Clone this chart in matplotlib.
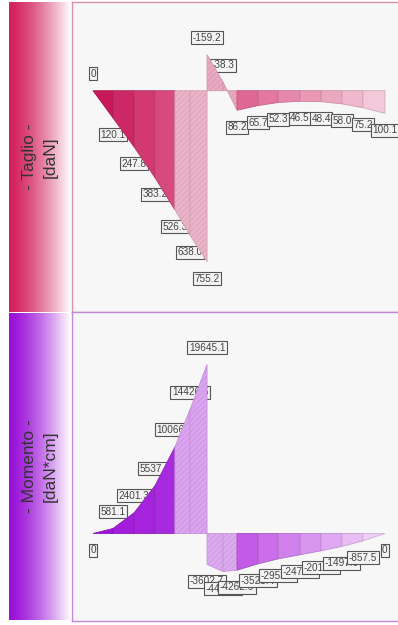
import numpy as np
import matplotlib
matplotlib.use("Agg")
import matplotlib.pyplot as plt
from matplotlib.colors import LinearSegmentedColormap, to_rgb

#----------------------------------------------------------------------------#
            # Data (stations along the beam [cm] and values) #
#----------------------------------------------------------------------------#

x_sx = [0, 9.4, 19.3, 29.1, 38.5, 45.6, 53.6]
x_dx = [53.6, 61.1, 67.7, 77.6, 87.0, 97.3, 107.2, 117.0, 126.9, 137.2]

taglio_sx = [0, 120.1, 247.8, 383.2, 526.3, 638.0, 755.2]
taglio_dx = [-159.2, -38.3, 86.2, 65.7, 52.3, 46.5, 48.4, 58.0, 75.2, 100.1]

momento_sx = [0, 581.1, 2401.3, 5537.4, 10066.2, 14426.5, 19645.1]
momento_dx = [-3602.7, -4426.5, -4262.6, -3525.4, -2953.1, -2474.0,
              -2013.2, -1497.6, -857.5, 0]

titoli = ["- Taglio -\n[daN]", "- Momento -\n[daN*cm]"]

#----------------------------------------------------------------------------#
            # Style #
#----------------------------------------------------------------------------#

plt.rcParams['font.family'] = ['Liberation Sans', 'DejaVu Sans']
plt.rcParams['hatch.linewidth'] = 0.5

W, H = 398, 625
fig = plt.figure(figsize=(W / 100, H / 100), dpi=100)


def px_axes(x0, y0, x1, y1):
    # axes from pixel box (top-left origin)
    return fig.add_axes([x0 / W, 1 - y1 / H, (x1 - x0) / W, (y1 - y0) / H])


def grad(n, dark, light):
    c0, c1 = np.array(to_rgb(dark)), np.array(to_rgb(light))
    return [tuple(c0 + (c1 - c0) * k / max(n - 1, 1)) for k in range(n)]


def darker(c, f=0.85):
    return tuple(np.array(to_rgb(c)) * f)


def label(ax, x, v, up):
    txt = "0" if v == 0 else "%.1f" % v
    ax.annotate(txt, xy=(x, v), xytext=(0, 12.2 if up else -12.2),
                textcoords='offset points', ha='center', va='center',
                fontsize=7.2, color='#444444', zorder=2,
                bbox=dict(boxstyle='square,pad=0.15', fc='#f3f3f3',
                          ec='#555555', lw=0.8))


def draw(ax, xs, vals, cols, hatched, up_rule):
    for i, (x, v) in enumerate(zip(xs, vals)):
        label(ax, x, v, up_rule(v))
    for i in range(len(xs) - 1):
        px = [xs[i], xs[i], xs[i + 1], xs[i + 1]]
        py = [0, vals[i], vals[i + 1], 0]
        c = cols[i]
        if hatched[i]:
            ax.fill(px, py, facecolor=c, edgecolor=darker(c, 0.9), lw=0.6,
                    hatch='//////', zorder=3)
        else:
            ax.fill(px, py, facecolor=c, edgecolor=darker(c), lw=0.6, zorder=3)


# left bands with gradient
bands = [(2, 312, '#d2215c'), (313, 620, '#9a10d8')]
for (y0, y1, col), titolo in zip(bands, titoli):
    axb = px_axes(9, y0, 71, y1)
    cmap = LinearSegmentedColormap.from_list('b', [col, '#ffffff'])
    axb.imshow((np.linspace(0, 1, 200) ** 1.4)[None, :], cmap=cmap,
               aspect='auto', extent=[0, 1, 0, 1])
    axb.set_xlim(0, 1)
    axb.set_ylim(0, 1)
    axb.axis('off')
    axb.text(0.5, 0.5, titolo, rotation=90, ha='center', va='center',
             fontsize=12.5, color='#333333', linespacing=1.5,
             transform=axb.transAxes)

# x scale: beam start at px 93, 0.47 cm per px
sx = 0.47
xlim = (-(93 - 72) * sx, (W - 93) * sx)

#----------------------------------------------------------------------------#
            # Taglio #
#----------------------------------------------------------------------------#

ax_t = px_axes(72, 2, W, 312)
ax_t.set_facecolor('#f7f7f7')
kt = 0.2265  # px per daN
ax_t.set_xlim(*xlim)
ax_t.set_ylim((312 - 90.7) / kt, -(90.7 - 2) / kt)

cols = grad(4, '#c8185a', '#d8497d') + ['#ecb3c8'] * 2
draw(ax_t, x_sx, taglio_sx, cols, [0, 0, 0, 0, 1, 1], lambda v: v <= 0)
cols = ['#eaa8c1'] * 2 + grad(7, '#e06894', '#f3c8d8')
draw(ax_t, x_dx, taglio_dx, cols, [1, 1] + [0] * 7, lambda v: v <= 0)

#----------------------------------------------------------------------------#
            # Momento #
#----------------------------------------------------------------------------#

ax_m = px_axes(72, 312, W, 621)
ax_m.set_facecolor('#f7f7f7')
km = 0.0086  # px per daN*cm
ax_m.set_xlim(*xlim)
ax_m.set_ylim(-(621 - 533.5) / km, (533.5 - 312) / km)

cols = grad(4, '#a016d9', '#a82ade') + ['#dca3f0'] * 2
draw(ax_m, x_sx, momento_sx, cols, [0, 0, 0, 0, 1, 1], lambda v: v > 0)
cols = ['#dda9f0'] * 2 + grad(7, '#c25ae6', '#efcff8')
draw(ax_m, x_dx, momento_dx, cols, [1, 1] + [0] * 7, lambda v: v > 0)

for ax, ec in [(ax_t, '#d890ae'), (ax_m, '#c18ad9')]:
    ax.set_xticks([])
    ax.set_yticks([])
    for s in ax.spines.values():
        s.set_color(ec)
        s.set_linewidth(1.0)
    ax.spines['right'].set_visible(False)

fig.savefig('out.png', dpi=100)
